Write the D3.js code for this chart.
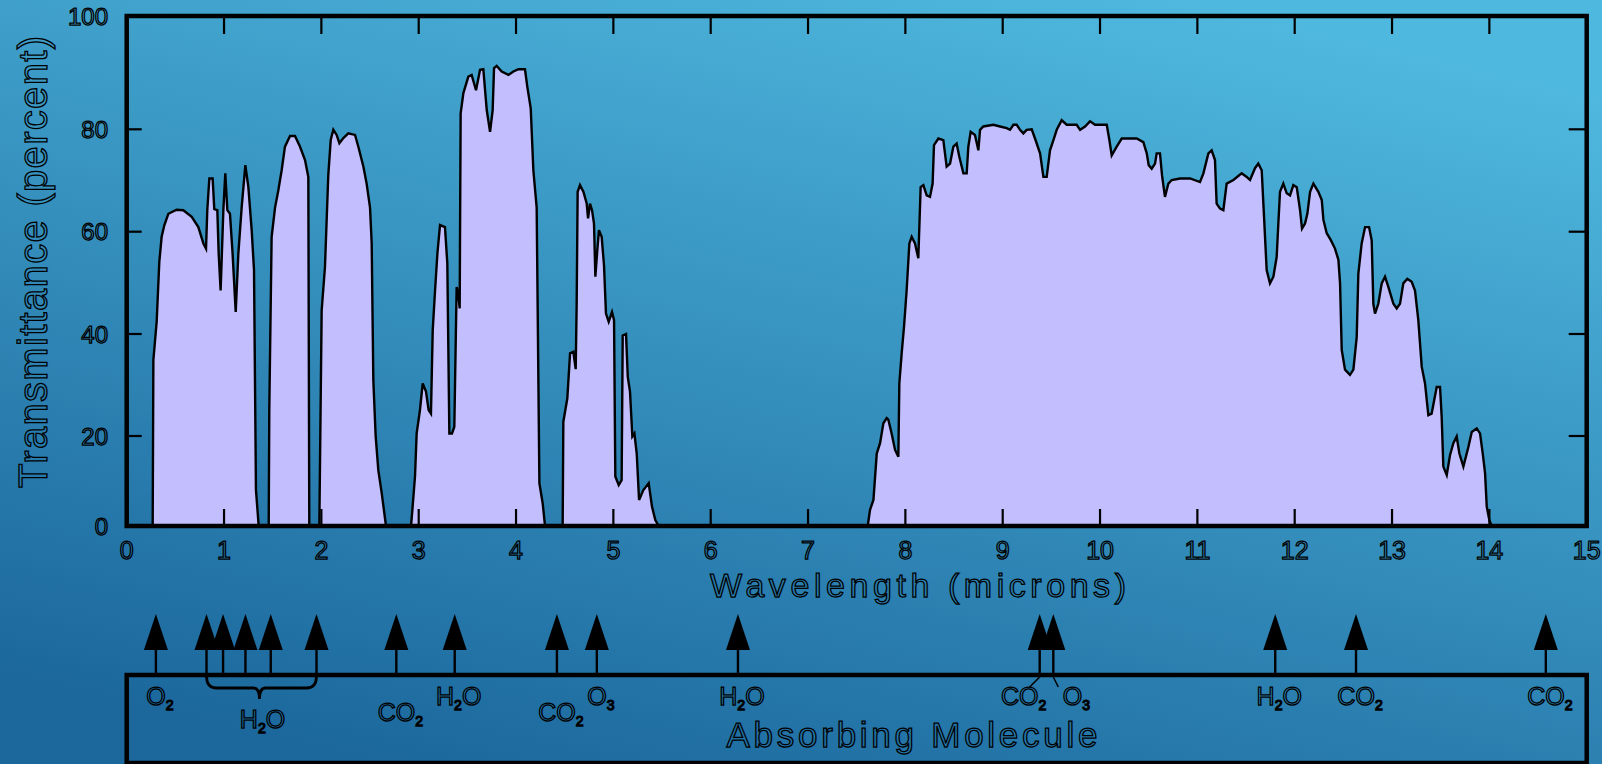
<!DOCTYPE html>
<html>
<head>
<meta charset="utf-8">
<script src="https://cdn.jsdelivr.net/npm/d3@7"></script>
<style>
  html, body { margin: 0; padding: 0; overflow: hidden; background: #2a86b8; }
  text { font-family: "Liberation Sans", Arial, sans-serif; fill: none; stroke: #000; stroke-width: 1.25; }
</style>
</head>
<body>
<svg id="chart" width="1602" height="764"></svg>
<script>
// wavelength in microns, transmittance in percent
var wavelength = [
  0, 0.267, 0.274, 0.308, 0.335, 0.359, 0.387, 0.428, 0.513, 0.582, 0.668, 0.736, 0.788, 0.815, 0.828, 0.849,
  0.883, 0.900, 0.931, 0.945, 0.965, 0.993, 1.013, 1.034, 1.061, 1.088, 1.120, 1.147, 1.181, 1.219, 1.250, 1.284,
  1.308, 1.328, 1.356, 1.459, 1.465, 1.489, 1.524, 1.558, 1.592, 1.626, 1.678, 1.729, 1.781, 1.832, 1.866, 1.876,
  1.979, 1.986, 2.003, 2.037, 2.071, 2.096, 2.123, 2.157, 2.185, 2.226, 2.277, 2.346, 2.380, 2.432, 2.465, 2.500,
  2.517, 2.534, 2.558, 2.585, 2.620, 2.664, 2.921, 2.935, 2.962, 2.979, 3.013, 3.041, 3.075, 3.102, 3.126, 3.144,
  3.168, 3.192, 3.219, 3.270, 3.294, 3.315, 3.342, 3.366, 3.380, 3.390, 3.407, 3.421, 3.431, 3.459, 3.510, 3.544,
  3.589, 3.630, 3.664, 3.699, 3.733, 3.760, 3.774, 3.801, 3.853, 3.922, 3.973, 4.024, 4.092, 4.116, 4.151, 4.178,
  4.212, 4.240, 4.274, 4.298, 4.479, 4.486, 4.527, 4.555, 4.589, 4.613, 4.623, 4.633, 4.657, 4.692, 4.726, 4.740,
  4.760, 4.781, 4.801, 4.815, 4.835, 4.852, 4.880, 4.904, 4.924, 4.952, 4.986, 5.007, 5.020, 5.055, 5.085, 5.096,
  5.130, 5.148, 5.171, 5.195, 5.216, 5.240, 5.264, 5.308, 5.363, 5.397, 5.431, 5.466, 7.613, 7.637, 7.672, 7.706,
  7.740, 7.774, 7.808, 7.825, 7.859, 7.894, 7.928, 7.938, 7.962, 7.986, 8.013, 8.041, 8.065, 8.099, 8.133, 8.157,
  8.185, 8.219, 8.253, 8.280, 8.294, 8.339, 8.390, 8.424, 8.459, 8.493, 8.527, 8.555, 8.596, 8.630, 8.647, 8.671,
  8.715, 8.750, 8.767, 8.801, 8.904, 8.973, 9.041, 9.075, 9.110, 9.144, 9.178, 9.212, 9.246, 9.298, 9.332, 9.384,
  9.418, 9.452, 9.486, 9.521, 9.555, 9.606, 9.658, 9.760, 9.795, 9.846, 9.897, 9.949, 10.069, 10.096, 10.120, 10.171,
  10.223, 10.377, 10.445, 10.480, 10.500, 10.531, 10.565, 10.582, 10.616, 10.637, 10.667, 10.702, 10.736, 10.822, 10.925, 11.027,
  11.062, 11.113, 11.147, 11.181, 11.198, 11.233, 11.267, 11.301, 11.370, 11.455, 11.507, 11.541, 11.592, 11.626, 11.661, 11.685,
  11.712, 11.746, 11.781, 11.815, 11.832, 11.849, 11.883, 11.918, 11.952, 11.986, 12.021, 12.055, 12.075, 12.106, 12.130, 12.158,
  12.192, 12.243, 12.278, 12.295, 12.329, 12.370, 12.414, 12.449, 12.466, 12.483, 12.517, 12.568, 12.603, 12.637, 12.654, 12.688,
  12.723, 12.764, 12.791, 12.808, 12.825, 12.859, 12.894, 12.928, 12.962, 13.014, 13.048, 13.082, 13.116, 13.157, 13.202, 13.236,
  13.270, 13.305, 13.339, 13.373, 13.407, 13.459, 13.493, 13.510, 13.527, 13.562, 13.596, 13.630, 13.664, 13.692, 13.733, 13.785,
  13.819, 13.870, 13.904, 13.932, 13.956, 13.973, 14.000, 14.024, 15
];
var transmittance = [
  0, 0, 34.9, 42.4, 54.1, 59.0, 61.3, 63.5, 64.3, 64.2, 62.9, 60.9, 57.7, 56.7, 64.2, 70.4,
  70.4, 64.4, 64.2, 55.7, 48.5, 64.2, 71.4, 64.2, 63.5, 55.7, 44.3, 55.7, 64.7, 73.0, 68.7, 60.3,
  52.5, 8.0, 0, 0, 25.1, 59.0, 64.7, 68.1, 72.0, 76.6, 78.7, 78.7, 76.6, 74.0, 70.7, 0,
  0, 13.9, 44.6, 53.1, 71.0, 77.9, 79.9, 78.9, 77.3, 78.3, 79.2, 78.9, 76.6, 72.7, 69.4, 64.7,
  57.7, 30.9, 19.9, 12.4, 7.3, 0, 0, 3.6, 11.0, 20.5, 25.1, 30.3, 28.7, 25.1, 24.4, 40.7,
  48.5, 55.7, 61.3, 60.9, 53.8, 20.5, 20.5, 21.8, 38.1, 49.2, 47.9, 45.0, 82.8, 86.4, 89.3, 89.6,
  86.9, 90.5, 90.6, 83.4, 79.5, 83.4, 90.8, 91.2, 90.2, 89.6, 90.2, 90.6, 90.6, 87.5, 83.7, 72.0,
  64.7, 9.5, 5.0, 0, 0, 22.8, 27.4, 36.2, 36.5, 33.1, 45.9, 67.8, 69.1, 67.8, 65.5, 62.6,
  65.5, 64.2, 61.6, 51.2, 56.4, 60.3, 59.0, 53.4, 44.0, 42.4, 44.3, 42.7, 11.0, 9.1, 10.2, 39.7,
  40.0, 31.6, 28.7, 19.9, 20.5, 16.1, 5.8, 8.0, 9.5, 4.3, 1.3, 0, 0, 3.6, 5.8, 16.1,
  18.4, 22.5, 23.5, 23.2, 20.5, 16.9, 15.4, 30.3, 36.2, 41.4, 48.5, 57.7, 59.0, 57.7, 54.8, 68.7,
  69.1, 67.1, 66.8, 69.4, 76.9, 78.2, 77.9, 72.7, 73.3, 76.6, 77.2, 74.6, 71.4, 71.4, 76.6, 79.5,
  78.9, 75.9, 79.9, 80.5, 80.8, 80.5, 80.2, 79.9, 80.8, 80.8, 79.9, 79.2, 79.9, 80.0, 78.2, 75.3,
  70.7, 70.7, 75.9, 77.9, 79.9, 81.6, 80.8, 80.8, 79.9, 80.5, 81.4, 80.8, 80.8, 77.9, 74.9, 76.6,
  78.2, 78.2, 77.5, 75.3, 73.0, 72.3, 73.3, 75.3, 75.3, 71.0, 66.8, 69.4, 70.1, 70.4, 70.4, 69.7,
  71.4, 75.3, 75.9, 74.0, 65.5, 64.5, 64.2, 69.4, 70.1, 71.4, 70.7, 70.1, 72.4, 73.3, 72.0, 62.9,
  52.5, 49.9, 51.2, 55.1, 61.6, 67.8, 69.4, 67.5, 67.1, 69.1, 68.7, 64.2, 60.6, 61.6, 63.5, 67.8,
  69.4, 67.8, 66.2, 62.3, 59.7, 58.4, 56.7, 54.5, 49.9, 36.9, 33.0, 32.0, 33.0, 39.4, 51.8, 57.7,
  60.9, 60.9, 58.3, 45.9, 44.0, 45.9, 49.9, 51.2, 49.2, 45.9, 45.0, 45.9, 49.9, 50.8, 50.2, 48.5,
  42.7, 33.6, 30.3, 24.1, 24.4, 29.6, 29.6, 23.8, 13.2, 11.3, 15.8, 18.4, 19.9, 16.1, 13.2, 17.6,
  20.8, 21.5, 20.5, 16.1, 11.7, 4.3, 1.3, 0, 0
];

var xTicks = d3.range(0, 16);           // 0..15 microns
var yTicks = [0, 20, 40, 60, 80, 100];  // percent

// absorption bands and the molecule responsible
var absorberWavelength = [0.30, 0.82, 0.99, 1.22, 1.48, 1.95, 2.77, 3.37, 4.42, 4.83, 6.28, 9.38, 9.52, 11.80, 12.63, 14.58];
var absorberName = ["O2", "H2O", "H2O", "H2O", "H2O", "H2O", "CO2", "H2O", "CO2", "O3", "H2O", "CO2", "O3", "H2O", "CO2", "CO2"];

var W = 1602, H = 764;
var svg = d3.select("#chart");

// background gradient
var grad = svg.append("defs").append("linearGradient")
  .attr("id", "bg")
  .attr("x1", 0.75).attr("y1", 0)
  .attr("x2", 0.25).attr("y2", 1);
grad.append("stop").attr("offset", 0).attr("stop-color", "#4fb8de");
grad.append("stop").attr("offset", 1).attr("stop-color", "#1c689d");
svg.append("rect").attr("width", W).attr("height", H).attr("fill", "url(#bg)");

// the original axis is not evenly spaced, so the y scale is piecewise
var x = d3.scaleLinear().domain([0, 15]).range([126.7, 1586.7]);
var y = d3.scaleLinear().domain(yTicks).range([526, 436, 334, 231.7, 129.3, 16]);

var data = wavelength.map(function(w, i) { return [w, transmittance[i]]; });

var area = d3.area()
  .x(function(d) { return x(d[0]); })
  .y0(y(0))
  .y1(function(d) { return y(d[1]); });
var line = d3.line()
  .x(function(d) { return x(d[0]); })
  .y(function(d) { return y(d[1]); });

svg.append("path").datum(data)
  .attr("d", area)
  .attr("fill", "#c3befd");
svg.append("path").datum(data)
  .attr("d", line)
  .attr("fill", "none")
  .attr("stroke", "#000")
  .attr("stroke-width", 2.4)
  .attr("stroke-linejoin", "miter");

// inner ticks on all four sides
var ticks = svg.append("g").attr("stroke", "#000").attr("stroke-width", 2.2);
xTicks.slice(1, -1).forEach(function(t) {
  ticks.append("line").attr("x1", x(t)).attr("x2", x(t)).attr("y1", y(0)).attr("y2", y(0) - 17);
  ticks.append("line").attr("x1", x(t)).attr("x2", x(t)).attr("y1", y(100)).attr("y2", y(100) + 18);
});
yTicks.slice(1, -1).forEach(function(t) {
  ticks.append("line").attr("x1", x(0)).attr("x2", x(0) + 15).attr("y1", y(t)).attr("y2", y(t));
  ticks.append("line").attr("x1", x(15)).attr("x2", x(15) - 18).attr("y1", y(t)).attr("y2", y(t));
});

// frame
svg.append("rect")
  .attr("x", x(0)).attr("y", y(100))
  .attr("width", x(15) - x(0)).attr("height", y(0) - y(100))
  .attr("fill", "none").attr("stroke", "#000").attr("stroke-width", 4.5);

// tick labels
svg.append("g").selectAll("text").data(xTicks).enter().append("text")
  .attr("x", function(d) { return x(d); })
  .attr("y", 559)
  .attr("text-anchor", "middle")
  .attr("font-size", 25)
  .text(function(d) { return d; });

svg.append("g").selectAll("text").data(yTicks).enter().append("text")
  .attr("x", 108)
  .attr("y", function(d) { return y(d) + 8.5; })
  .attr("text-anchor", "end")
  .attr("font-size", 24)
  .text(function(d) { return d; });

// axis titles
svg.append("text")
  .attr("transform", "translate(47,262) rotate(-90)")
  .attr("text-anchor", "middle")
  .attr("font-size", 40)
  .attr("textLength", 452).attr("lengthAdjust", "spacing")
  .text("Transmittance (percent)");

svg.append("text")
  .attr("x", 918).attr("y", 597)
  .attr("text-anchor", "middle")
  .attr("font-size", 34)
  .attr("textLength", 416).attr("lengthAdjust", "spacing")
  .text("Wavelength (microns)");

// absorbing molecule panel
var boxTop = 675;
svg.append("rect")
  .attr("x", x(0)).attr("y", boxTop)
  .attr("width", x(15) - x(0)).attr("height", 88)
  .attr("fill", "none").attr("stroke", "#000").attr("stroke-width", 4.5);

svg.append("text")
  .attr("x", 912).attr("y", 747)
  .attr("text-anchor", "middle")
  .attr("font-size", 35)
  .attr("textLength", 371).attr("lengthAdjust", "spacing")
  .text("Absorbing Molecule");

var arrows = svg.append("g");
absorberWavelength.forEach(function(w) {
  var cx = x(w);
  arrows.append("line")
    .attr("x1", cx).attr("x2", cx).attr("y1", 645).attr("y2", boxTop)
    .attr("stroke", "#000").attr("stroke-width", 2.4);
  arrows.append("path")
    .attr("d", "M" + cx + ",614 L" + (cx - 12) + ",650 L" + (cx + 12) + ",650 Z")
    .attr("fill", "#000");
});

// write a formula with subscripted digits
function molText(sel, name) {
  var parts = name.match(/[A-Z][a-z]?|\d/g);
  var down = false;
  parts.forEach(function(p) {
    var t = sel.append("tspan").text(p);
    if (/\d/.test(p)) { t.attr("font-size", 14).attr("dy", 5); down = true; }
    else if (down) { t.attr("dy", -5); down = false; }
  });
}

// label placement tweaks (layout only)
var nudge = { 6: { dy: 16 }, 8: { dy: 16 }, 11: { dx: -20, lead: true }, 12: { dx: 19, lead: true } };

// runs of the same molecule that sit close together get one brace
var groups = [];
absorberWavelength.forEach(function(w, i) {
  var g = groups[groups.length - 1];
  if (g && absorberName[g.end] === absorberName[i] && w - absorberWavelength[g.end] < 0.6) g.end = i;
  else groups.push({ start: i, end: i });
});

var labels = svg.append("g");
groups.forEach(function(g) {
  var name = absorberName[g.start];
  if (g.end > g.start) {
    var xa = x(absorberWavelength[g.start]), xb = x(absorberWavelength[g.end]);
    var xm = (xa + xb) / 2 - 2;
    labels.append("path")
      .attr("d", "M" + xa + "," + (boxTop + 1) +
        " Q" + xa + ",688 " + (xa + 10) + ",688 L" + (xm - 6) + ",688 Q" + xm + ",688 " + xm + ",699" +
        " Q" + xm + ",688 " + (xm + 6) + ",688 L" + (xb - 10) + ",688 Q" + xb + ",688 " + xb + "," + (boxTop + 1))
      .attr("fill", "none").attr("stroke", "#000").attr("stroke-width", 2.8);
    var t = labels.append("text")
      .attr("x", xm + 3).attr("y", 728)
      .attr("text-anchor", "middle").attr("font-size", 25);
    molText(t, name);
  } else {
    var i = g.start, n = nudge[i] || {};
    var cx = x(absorberWavelength[i]);
    var lx = cx + (n.dx || 0), ly = 705 + (n.dy || 0);
    if (n.lead) {
      labels.append("line")
        .attr("x1", cx).attr("y1", boxTop + 2)
        .attr("x2", cx + (n.dx > 0 ? 5 : -10)).attr("y2", 687)
        .attr("stroke", "#000").attr("stroke-width", 1.6);
    }
    var t2 = labels.append("text")
      .attr("x", lx + 4).attr("y", ly)
      .attr("text-anchor", "middle").attr("font-size", 25);
    molText(t2, name);
  }
});
</script>
</body>
</html>
